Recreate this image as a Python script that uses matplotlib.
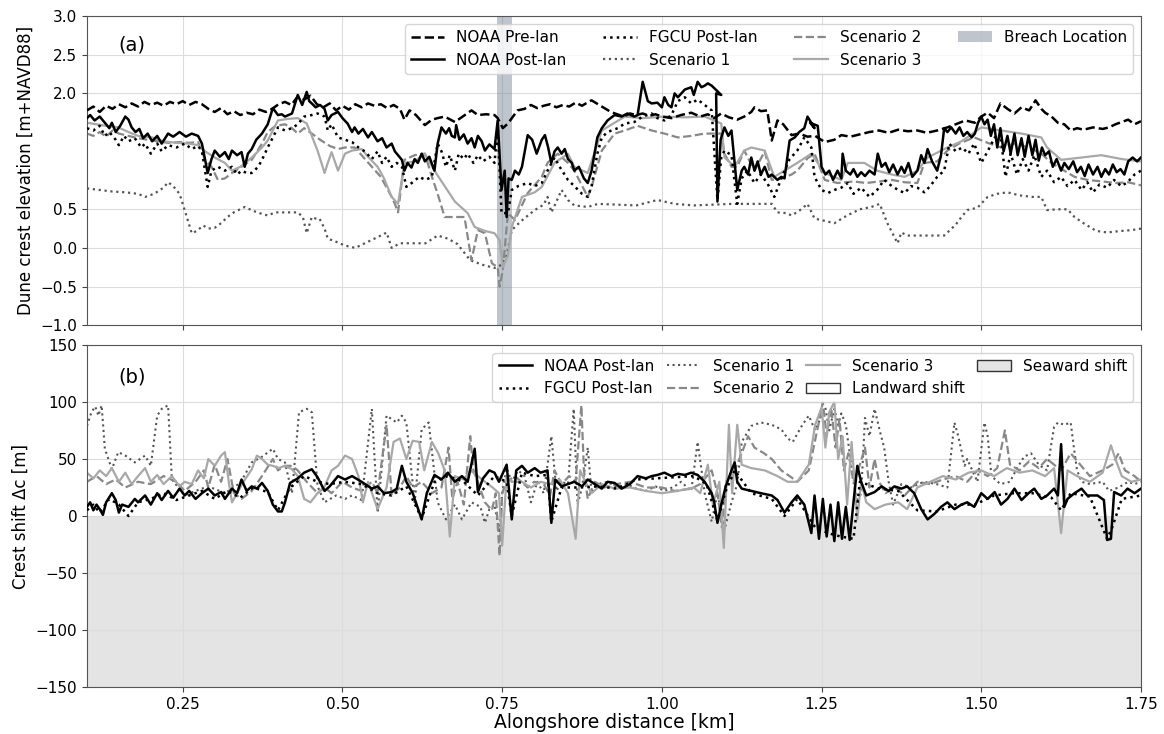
import matplotlib
matplotlib.use("Agg")
import matplotlib.pyplot as plt
from matplotlib.patches import Patch
import numpy as np

# ---- panel (a): dune crest elevation [m+NAVD88] ----
pre_x = [0.100, 0.110, 0.120, 0.130, 0.140, 0.150, 0.160, 0.170, 0.180, 0.190, 0.200, 0.210, 0.220, 0.230, 0.240,
         0.250, 0.260, 0.270, 0.280, 0.290, 0.300, 0.310, 0.320, 0.330, 0.340, 0.350, 0.360, 0.370, 0.380, 0.390,
         0.400, 0.410, 0.420, 0.430, 0.440, 0.450, 0.460, 0.470, 0.480, 0.490, 0.500, 0.510, 0.520, 0.530, 0.540,
         0.550, 0.560, 0.570, 0.580, 0.590, 0.597, 0.605, 0.615, 0.629, 0.640, 0.649, 0.660, 0.676, 0.690, 0.702,
         0.712, 0.725, 0.738, 0.743, 0.751, 0.759, 0.774, 0.785, 0.795, 0.805, 0.815, 0.825, 0.835, 0.845, 0.855,
         0.865, 0.875, 0.885, 0.890, 0.900, 0.910, 0.920, 0.930, 0.940, 0.950, 0.960, 0.970, 0.980, 0.990, 1.000,
         1.015, 1.030, 1.046, 1.060, 1.072, 1.082, 1.093, 1.105, 1.118, 1.129, 1.140, 1.145, 1.155, 1.165, 1.172,
         1.181, 1.190, 1.203, 1.215, 1.228, 1.240, 1.255, 1.270, 1.281, 1.295, 1.310, 1.325, 1.340, 1.355, 1.370,
         1.385, 1.400, 1.415, 1.431, 1.447, 1.460, 1.475, 1.490, 1.500, 1.510, 1.520, 1.530, 1.541, 1.552, 1.563,
         1.575, 1.585, 1.594, 1.600, 1.610, 1.620, 1.630, 1.640, 1.650, 1.660, 1.675, 1.690, 1.700, 1.710, 1.720,
         1.730, 1.740, 1.750]
pre_y = [1.78, 1.83, 1.76, 1.84, 1.80, 1.86, 1.82, 1.87, 1.83, 1.89, 1.85, 1.88, 1.84, 1.89, 1.86,
         1.90, 1.85, 1.89, 1.86, 1.80, 1.76, 1.81, 1.73, 1.77, 1.72, 1.75, 1.73, 1.79, 1.76, 1.80,
         1.86, 1.89, 1.85, 1.96, 1.92, 1.97, 1.86, 1.82, 1.87, 1.78, 1.84, 1.79, 1.86, 1.82, 1.87,
         1.84, 1.86, 1.81, 1.85, 1.80, 1.66, 1.78, 1.72, 1.59, 1.66, 1.68, 1.70, 1.63, 1.71, 1.78,
         1.72, 1.73, 1.72, 1.68, 1.55, 1.61, 1.78, 1.80, 1.85, 1.81, 1.84, 1.86, 1.82, 1.85, 1.83,
         1.88, 1.84, 1.89, 1.91, 1.86, 1.81, 1.76, 1.73, 1.70, 1.74, 1.72, 1.74, 1.71, 1.73, 1.70,
         1.68, 1.72, 1.75, 1.70, 1.73, 1.68, 1.74, 1.69, 1.66, 1.70, 1.76, 1.82, 1.77, 1.78, 1.39,
         1.65, 1.60, 1.46, 1.48, 1.44, 1.45, 1.37, 1.40, 1.46, 1.44, 1.47, 1.50, 1.52, 1.49, 1.53,
         1.51, 1.52, 1.49, 1.52, 1.56, 1.60, 1.65, 1.62, 1.70, 1.75, 1.68, 1.87, 1.80, 1.74, 1.82,
         1.78, 1.91, 1.80, 1.75, 1.70, 1.62, 1.60, 1.52, 1.55, 1.53, 1.56, 1.54, 1.56, 1.60, 1.63,
         1.66, 1.60, 1.64]

post_x = [0.100, 0.105, 0.112, 0.120, 0.128, 0.135, 0.139, 0.145, 0.152, 0.160, 0.165, 0.170, 0.176, 0.182, 0.188,
          0.195, 0.202, 0.210, 0.217, 0.227, 0.235, 0.245, 0.255, 0.264, 0.274, 0.280, 0.289, 0.295, 0.300, 0.308,
          0.316, 0.322, 0.327, 0.335, 0.342, 0.347, 0.352, 0.358, 0.365, 0.374, 0.383, 0.391, 0.399, 0.405, 0.410,
          0.421, 0.430, 0.437, 0.444, 0.448, 0.452, 0.458, 0.465, 0.472, 0.477, 0.483, 0.493, 0.500, 0.508, 0.515,
          0.519, 0.525, 0.532, 0.540, 0.546, 0.555, 0.562, 0.569, 0.577, 0.582, 0.587, 0.593, 0.597, 0.602, 0.608,
          0.613, 0.618, 0.624, 0.629, 0.636, 0.644, 0.649, 0.655, 0.662, 0.667, 0.671, 0.676, 0.678, 0.683, 0.690,
          0.696, 0.702, 0.707, 0.712, 0.718, 0.723, 0.730, 0.738, 0.743, 0.749, 0.754, 0.757, 0.760, 0.765, 0.770,
          0.776, 0.781, 0.790, 0.797, 0.804, 0.812, 0.817, 0.822, 0.827, 0.832, 0.837, 0.843, 0.848, 0.853, 0.859,
          0.863, 0.870, 0.878, 0.884, 0.890, 0.899, 0.906, 0.915, 0.926, 0.937, 0.946, 0.957, 0.962, 0.970, 0.978,
          0.984, 0.993, 1.000, 1.004, 1.010, 1.015, 1.020, 1.025, 1.036, 1.046, 1.050, 1.056, 1.062, 1.067, 1.072,
          1.078, 1.093, 1.085, 1.087, 1.092, 1.098, 1.104, 1.109, 1.114, 1.118, 1.125, 1.129, 1.135, 1.140, 1.145,
          1.150, 1.155, 1.161, 1.167, 1.172, 1.181, 1.187, 1.192, 1.200, 1.208, 1.215, 1.223, 1.228, 1.239, 1.232,
          1.244, 1.250, 1.256, 1.262, 1.268, 1.275, 1.281, 1.283, 1.288, 1.295, 1.300, 1.306, 1.312, 1.318, 1.325,
          1.333, 1.338, 1.344, 1.350, 1.356, 1.362, 1.369, 1.375, 1.380, 1.386, 1.392, 1.400, 1.406, 1.411, 1.416,
          1.423, 1.431, 1.437, 1.442, 1.447, 1.453, 1.460, 1.466, 1.472, 1.478, 1.485, 1.490, 1.495, 1.500, 1.505,
          1.510, 1.515, 1.520, 1.525, 1.530, 1.535, 1.541, 1.546, 1.552, 1.557, 1.563, 1.568, 1.574, 1.580, 1.585,
          1.590, 1.595, 1.600, 1.606, 1.612, 1.618, 1.625, 1.630, 1.637, 1.644, 1.650, 1.656, 1.662, 1.668, 1.675,
          1.682, 1.688, 1.694, 1.700, 1.706, 1.712, 1.718, 1.724, 1.730, 1.737, 1.744, 1.750]
post_y = [1.68, 1.72, 1.65, 1.70, 1.62, 1.55, 1.62, 1.50, 1.58, 1.70, 1.66, 1.56, 1.50, 1.54, 1.42,
          1.48, 1.38, 1.45, 1.35, 1.48, 1.44, 1.50, 1.44, 1.48, 1.45, 1.35, 0.97, 1.15, 1.26, 1.18,
          1.24, 1.15, 1.26, 1.20, 1.24, 1.05, 1.22, 1.28, 1.40, 1.48, 1.60, 1.81, 1.72, 1.73, 1.70,
          1.74, 1.98, 1.85, 2.02, 1.90, 1.87, 1.82, 1.85, 1.80, 1.65, 1.72, 1.76, 1.68, 1.61, 1.50,
          1.56, 1.48, 1.54, 1.43, 1.50, 1.38, 1.42, 1.30, 1.35, 1.25, 1.20, 1.14, 1.00, 1.10, 1.04,
          1.15, 1.10, 1.22, 1.12, 1.18, 1.00, 1.35, 1.56, 1.48, 1.55, 1.45, 1.43, 1.59, 1.40, 1.47,
          1.35, 1.42, 1.30, 1.45, 1.38, 1.26, 1.34, 1.28, 1.65, 0.75, 1.00, 0.40, 0.90, 0.88, 1.00,
          0.95, 1.05, 1.46, 1.40, 1.22, 1.40, 1.46, 1.30, 1.10, 1.25, 1.30, 1.22, 1.28, 1.15, 1.10,
          1.00, 1.05, 0.90, 0.84, 1.00, 1.43, 1.55, 1.65, 1.72, 1.70, 1.74, 1.70, 1.72, 2.15, 1.90,
          1.87, 1.88, 1.82, 1.95, 1.85, 1.82, 2.00, 1.95, 2.05, 2.08, 1.98, 2.15, 2.08, 2.10, 2.13,
          2.10, 1.98, 2.00, 0.60, 1.40, 1.56, 1.45, 1.52, 1.10, 0.75, 1.00, 1.05, 0.95, 1.17, 1.00,
          1.12, 0.95, 1.05, 0.92, 0.95, 0.88, 0.92, 0.90, 1.39, 1.43, 1.50, 1.55, 1.70, 1.55, 1.62,
          1.58, 1.05, 0.95, 1.00, 0.88, 1.00, 0.90, 1.22, 1.00, 0.95, 1.02, 0.92, 0.98, 0.93, 1.00,
          0.95, 1.22, 1.05, 1.10, 0.98, 1.08, 0.95, 1.05, 0.97, 1.10, 0.92, 1.00, 1.20, 1.10, 1.28,
          1.12, 1.00, 1.20, 1.55, 1.50, 1.56, 1.48, 1.56, 1.45, 1.50, 1.43, 1.48, 1.62, 1.70, 1.60,
          1.66, 1.45, 1.60, 1.30, 1.55, 1.25, 1.45, 1.22, 1.48, 1.20, 1.42, 1.18, 1.45, 1.20, 1.40,
          1.13, 1.30, 1.20, 1.25, 1.05, 1.15, 1.00, 1.10, 1.02, 1.12, 0.98, 1.05, 0.93, 1.08, 0.95,
          1.05, 0.92, 1.02, 0.95, 1.08, 0.98, 1.02, 0.95, 1.12, 1.17, 1.12, 1.17]

fgcu_x = [0.100, 0.110, 0.120, 0.128, 0.135, 0.145, 0.150, 0.158, 0.165, 0.175, 0.185, 0.191, 0.200, 0.210, 0.217,
          0.227, 0.240, 0.253, 0.264, 0.274, 0.280, 0.289, 0.295, 0.305, 0.316, 0.327, 0.335, 0.342, 0.350, 0.358,
          0.368, 0.374, 0.383, 0.391, 0.399, 0.410, 0.421, 0.430, 0.440, 0.452, 0.461, 0.472, 0.477, 0.483, 0.493,
          0.504, 0.515, 0.525, 0.535, 0.546, 0.555, 0.562, 0.569, 0.577, 0.585, 0.593, 0.600, 0.610, 0.620, 0.630,
          0.640, 0.649, 0.655, 0.662, 0.668, 0.676, 0.682, 0.690, 0.696, 0.705, 0.712, 0.720, 0.730, 0.738, 0.743,
          0.749, 0.759, 0.765, 0.775, 0.790, 0.801, 0.812, 0.821, 0.832, 0.840, 0.853, 0.863, 0.875, 0.884, 0.890,
          0.899, 0.906, 0.915, 0.931, 0.942, 0.957, 0.970, 0.984, 0.993, 1.004, 1.015, 1.025, 1.036, 1.046, 1.056,
          1.067, 1.078, 1.087, 1.093, 1.098, 1.109, 1.118, 1.125, 1.134, 1.145, 1.155, 1.165, 1.176, 1.187, 1.200,
          1.212, 1.223, 1.234, 1.239, 1.250, 1.260, 1.270, 1.281, 1.291, 1.300, 1.312, 1.325, 1.337, 1.348, 1.360,
          1.370, 1.380, 1.390, 1.400, 1.411, 1.420, 1.431, 1.442, 1.450, 1.460, 1.470, 1.480, 1.489, 1.500, 1.510,
          1.521, 1.531, 1.538, 1.546, 1.556, 1.565, 1.574, 1.583, 1.594, 1.603, 1.614, 1.625, 1.635, 1.646, 1.657,
          1.666, 1.675, 1.685, 1.697, 1.708, 1.719, 1.729, 1.740, 1.750]
fgcu_y = [1.55, 1.52, 1.58, 1.45, 1.50, 1.40, 1.33, 1.45, 1.38, 1.42, 1.30, 1.35, 1.22, 1.35, 1.25,
          1.33, 1.30, 1.35, 1.28, 1.32, 1.25, 0.79, 1.00, 1.05, 1.00, 1.05, 0.95, 1.00, 0.97, 0.97,
          1.05, 1.14, 1.30, 1.43, 1.56, 1.52, 1.55, 1.60, 1.70, 1.72, 1.74, 1.70, 1.52, 1.60, 1.43,
          1.40, 1.37, 1.30, 1.25, 1.15, 1.25, 1.10, 1.18, 1.05, 1.10, 1.05, 0.79, 0.85, 0.92, 0.88,
          0.92, 1.35, 1.25, 1.05, 1.20, 1.00, 1.22, 1.15, 1.22, 1.10, 1.20, 1.12, 1.18, 1.10, 1.56,
          0.45, 0.45, 0.75, 0.80, 0.84, 0.80, 0.84, 1.00, 1.17, 1.05, 0.88, 0.80, 0.70, 0.66, 0.80,
          1.22, 1.43, 1.50, 1.55, 1.61, 1.63, 1.70, 1.74, 1.68, 1.65, 1.72, 1.90, 1.95, 1.87, 1.92,
          1.85, 1.78, 0.62, 1.17, 1.26, 1.20, 0.57, 0.90, 1.00, 0.84, 0.95, 0.84, 0.66, 0.90, 1.15,
          1.26, 1.43, 1.30, 0.92, 0.75, 0.71, 0.75, 0.78, 0.84, 0.70, 0.78, 0.66, 0.75, 0.88, 0.80,
          0.75, 0.71, 0.80, 0.78, 0.72, 0.80, 0.92, 1.00, 1.35, 1.25, 1.30, 1.22, 1.35, 1.10, 1.25,
          1.43, 1.40, 0.92, 1.22, 0.95, 1.15, 1.00, 1.20, 0.92, 1.00, 0.85, 0.92, 0.80, 0.88, 0.75,
          0.85, 0.72, 0.82, 0.78, 0.88, 0.80, 0.85, 0.95, 1.00]

s1_x = [0.100, 0.120, 0.140, 0.160, 0.180, 0.191, 0.205, 0.220, 0.227, 0.235, 0.245, 0.253, 0.260, 0.264, 0.272,
        0.282, 0.290, 0.300, 0.310, 0.320, 0.330, 0.347, 0.360, 0.374, 0.383, 0.395, 0.410, 0.430, 0.438, 0.444,
        0.452, 0.458, 0.464, 0.472, 0.477, 0.490, 0.504, 0.520, 0.535, 0.555, 0.565, 0.569, 0.577, 0.590, 0.610,
        0.630, 0.649, 0.665, 0.680, 0.700, 0.720, 0.738, 0.749, 0.757, 0.765, 0.780, 0.801, 0.815, 0.821, 0.827,
        0.835, 0.843, 0.853, 0.863, 0.884, 0.900, 0.930, 0.960, 0.993, 1.020, 1.050, 1.080, 1.110, 1.140, 1.172,
        1.181, 1.195, 1.203, 1.215, 1.228, 1.239, 1.255, 1.270, 1.290, 1.310, 1.328, 1.341, 1.353, 1.369, 1.375,
        1.384, 1.400, 1.420, 1.442, 1.460, 1.469, 1.478, 1.494, 1.510, 1.525, 1.541, 1.560, 1.580, 1.594, 1.603,
        1.620, 1.635, 1.646, 1.660, 1.680, 1.697, 1.720, 1.735, 1.750]
s1_y = [0.77, 0.75, 0.73, 0.72, 0.70, 0.66, 0.70, 0.78, 0.85, 0.80, 0.70, 0.49, 0.30, 0.19, 0.22,
        0.29, 0.25, 0.26, 0.32, 0.40, 0.46, 0.53, 0.48, 0.44, 0.42, 0.46, 0.46, 0.46, 0.40, 0.19,
        0.40, 0.38, 0.38, 0.25, 0.12, 0.08, 0.03, 0.00, 0.06, 0.14, 0.18, 0.20, 0.00, 0.06, 0.06,
        0.06, 0.16, 0.12, 0.05, -0.16, -0.22, -0.26, -0.22, -0.10, 0.23, 0.35, 0.49, 0.56, 0.66, 0.46,
        0.60, 0.75, 0.62, 0.55, 0.53, 0.57, 0.56, 0.55, 0.62, 0.57, 0.55, 0.56, 0.57, 0.57, 0.57,
        0.46, 0.45, 0.42, 0.48, 0.57, 0.38, 0.35, 0.32, 0.42, 0.50, 0.53, 0.57, 0.32, 0.06, 0.20,
        0.16, 0.16, 0.16, 0.16, 0.30, 0.40, 0.49, 0.52, 0.66, 0.70, 0.72, 0.68, 0.66, 0.66, 0.49,
        0.50, 0.50, 0.40, 0.32, 0.22, 0.20, 0.22, 0.23, 0.25]

s2_x = [0.100, 0.110, 0.120, 0.130, 0.140, 0.150, 0.165, 0.180, 0.195, 0.210, 0.227, 0.245, 0.260, 0.274, 0.285,
        0.295, 0.305, 0.316, 0.327, 0.342, 0.358, 0.374, 0.383, 0.395, 0.410, 0.421, 0.430, 0.440, 0.452, 0.465,
        0.480, 0.493, 0.504, 0.519, 0.530, 0.546, 0.560, 0.577, 0.582, 0.587, 0.597, 0.613, 0.629, 0.640, 0.649,
        0.660, 0.676, 0.691, 0.702, 0.712, 0.723, 0.734, 0.743, 0.746, 0.751, 0.759, 0.770, 0.790, 0.812, 0.821,
        0.837, 0.853, 0.863, 0.884, 0.890, 0.906, 0.926, 0.942, 0.962, 0.984, 1.004, 1.025, 1.046, 1.067, 1.093,
        1.098, 1.109, 1.118, 1.129, 1.145, 1.161, 1.172, 1.187, 1.203, 1.212, 1.228, 1.239, 1.255, 1.275, 1.300,
        1.320, 1.340, 1.360, 1.380, 1.400, 1.411, 1.431, 1.447, 1.465, 1.489, 1.510, 1.531, 1.552, 1.575, 1.594,
        1.610, 1.630, 1.646, 1.666, 1.690, 1.710, 1.730, 1.750]
s2_y = [1.48, 1.45, 1.50, 1.44, 1.52, 1.48, 1.45, 1.42, 1.40, 1.38, 1.36, 1.37, 1.36, 1.37, 1.14,
        1.05, 0.88, 0.90, 0.97, 1.05, 1.14, 1.35, 1.50, 1.58, 1.60, 1.55, 1.48, 1.55, 1.48, 1.40,
        1.32, 1.28, 1.30, 1.30, 1.20, 1.05, 0.92, 0.66, 0.57, 0.46, 1.14, 1.20, 1.22, 0.92, 0.70,
        0.40, 0.40, 0.40, -0.16, 0.23, 0.19, -0.20, -0.25, -0.50, -0.29, 0.45, 0.36, 0.71, 0.92, 1.10,
        1.22, 1.10, 1.00, 0.66, 0.79, 1.26, 1.48, 1.52, 1.58, 1.52, 1.48, 1.43, 1.45, 1.48, 1.48,
        1.22, 1.05, 1.05, 1.26, 1.00, 1.25, 0.88, 0.90, 0.95, 1.00, 1.16, 1.22, 0.88, 0.84, 0.86,
        0.84, 0.86, 0.88, 0.85, 0.84, 1.10, 1.12, 1.26, 1.35, 1.43, 1.36, 1.30, 1.35, 1.30, 1.22,
        1.10, 1.00, 0.92, 0.88, 0.86, 0.84, 0.85, 0.81]

s3_x = [0.100, 0.115, 0.130, 0.149, 0.165, 0.180, 0.202, 0.220, 0.240, 0.260, 0.274, 0.285, 0.300, 0.316, 0.327,
        0.340, 0.358, 0.374, 0.383, 0.399, 0.415, 0.430, 0.444, 0.452, 0.461, 0.472, 0.477, 0.483, 0.493, 0.504,
        0.515, 0.530, 0.540, 0.555, 0.565, 0.577, 0.587, 0.597, 0.613, 0.629, 0.644, 0.660, 0.676, 0.696, 0.707,
        0.723, 0.738, 0.746, 0.751, 0.759, 0.765, 0.781, 0.801, 0.812, 0.832, 0.853, 0.863, 0.884, 0.906, 0.926,
        0.942, 0.970, 1.004, 1.036, 1.067, 1.082, 1.093, 1.098, 1.114, 1.129, 1.140, 1.161, 1.176, 1.192, 1.212,
        1.234, 1.255, 1.281, 1.291, 1.317, 1.337, 1.360, 1.380, 1.400, 1.416, 1.447, 1.469, 1.478, 1.500, 1.531,
        1.563, 1.594, 1.603, 1.625, 1.657, 1.688, 1.720, 1.750]
s3_y = [1.62, 1.60, 1.58, 1.56, 1.50, 1.45, 1.43, 1.38, 1.36, 1.35, 1.33, 1.25, 1.17, 1.10, 1.00,
        1.05, 1.17, 1.30, 1.39, 1.65, 1.67, 1.68, 1.61, 1.45, 1.26, 0.97, 1.10, 1.24, 1.00, 1.22,
        1.26, 1.28, 1.18, 1.05, 0.90, 0.66, 0.57, 1.10, 1.12, 1.22, 1.00, 0.80, 0.60, 0.45, 0.27,
        0.22, 0.19, 0.10, -0.25, -0.10, 0.27, 0.66, 0.72, 0.79, 1.10, 1.22, 1.05, 0.97, 1.52, 1.62,
        1.70, 1.68, 1.70, 1.69, 1.70, 1.65, 1.61, 1.17, 1.05, 1.26, 1.30, 1.26, 0.92, 1.00, 1.10,
        1.22, 0.97, 0.88, 1.10, 1.10, 1.00, 0.95, 0.92, 1.00, 1.17, 1.30, 1.38, 1.43, 1.56, 1.52,
        1.48, 1.43, 1.30, 1.14, 1.17, 1.20, 1.15, 1.12]

breach = (0.742, 0.765)

# ---- panel (b): crest shift [m] ----
bpost_x = [0.100, 0.105, 0.110, 0.115, 0.120, 0.125, 0.130, 0.139, 0.145, 0.150, 0.155, 0.165, 0.175, 0.180, 0.191,
           0.200, 0.210, 0.217, 0.227, 0.235, 0.245, 0.253, 0.260, 0.270, 0.280, 0.290, 0.300, 0.310, 0.316, 0.327,
           0.335, 0.342, 0.350, 0.358, 0.366, 0.374, 0.383, 0.391, 0.399, 0.405, 0.410, 0.418, 0.430, 0.440, 0.452,
           0.461, 0.472, 0.480, 0.493, 0.504, 0.515, 0.530, 0.546, 0.555, 0.565, 0.577, 0.585, 0.593, 0.600, 0.610,
           0.624, 0.632, 0.644, 0.655, 0.665, 0.676, 0.687, 0.696, 0.707, 0.712, 0.720, 0.730, 0.738, 0.745, 0.757,
           0.765, 0.772, 0.781, 0.790, 0.801, 0.810, 0.821, 0.827, 0.833, 0.843, 0.853, 0.863, 0.875, 0.884, 0.895,
           0.906, 0.915, 0.926, 0.937, 0.950, 0.962, 0.975, 0.984, 0.993, 1.004, 1.015, 1.025, 1.036, 1.046, 1.056,
           1.067, 1.078, 1.082, 1.087, 1.093, 1.100, 1.109, 1.114, 1.118, 1.125, 1.140, 1.155, 1.172, 1.181, 1.192,
           1.203, 1.212, 1.223, 1.234, 1.239, 1.246, 1.252, 1.258, 1.264, 1.270, 1.276, 1.282, 1.288, 1.294, 1.300,
           1.306, 1.312, 1.320, 1.333, 1.344, 1.355, 1.364, 1.375, 1.384, 1.395, 1.406, 1.416, 1.427, 1.437, 1.447,
           1.458, 1.469, 1.478, 1.489, 1.500, 1.510, 1.521, 1.531, 1.541, 1.552, 1.563, 1.574, 1.583, 1.594, 1.603,
           1.614, 1.620, 1.625, 1.630, 1.635, 1.646, 1.657, 1.666, 1.682, 1.692, 1.697, 1.703, 1.708, 1.719, 1.729,
           1.740, 1.750]
bpost_y = [8, 12, 5, 10, 6, 1, 12, 20, 14, 3, 10, 8, 15, 12, 18,
           10, 20, 14, 22, 16, 24, 18, 22, 15, 20, 24, 18, 21, 15, 24,
           20, 32, 22, 26, 24, 29, 22, 10, 4, 4, 12, 29, 33, 38, 41,
           34, 22, 26, 35, 32, 35, 30, 24, 26, 20, 21, 24, 44, 30, 20,
           -3, 20, 36, 32, 38, 30, 35, 30, 59, 21, 33, 40, 38, 30, 45,
           -3, 40, 44, 38, 42, 38, 40, -6, 32, 26, 28, 30, 26, 32, 28,
           24, 30, 29, 24, 28, 35, 33, 35, 36, 38, 35, 37, 36, 38, 36,
           30, 20, 12, -6, 10, 26, 40, 47, 30, 24, 22, 20, 18, 14, 3,
           12, 18, 10, -15, 18, -20, 15, -18, 10, -22, 12, -20, 8, -21, 12,
           44, 30, 18, 21, 26, 22, 26, 24, 26, 20, 6, -3, 2, 8, 12,
           6, 10, 12, 8, 20, 15, 21, 10, 15, 24, 14, 20, 24, 15, 18,
           24, 18, 63, 8, 15, 20, 24, 18, 18, 14, -21, -20, 21, 18, 24,
           20, 24]

bfgcu_x = [0.100, 0.110, 0.120, 0.135, 0.150, 0.165, 0.180, 0.200, 0.220, 0.240, 0.260, 0.280, 0.300, 0.320, 0.340,
           0.360, 0.383, 0.399, 0.418, 0.440, 0.461, 0.480, 0.504, 0.530, 0.555, 0.577, 0.600, 0.624, 0.644, 0.665,
           0.690, 0.712, 0.738, 0.757, 0.765, 0.781, 0.801, 0.821, 0.827, 0.843, 0.870, 0.900, 0.930, 0.960, 0.990,
           1.020, 1.050, 1.070, 1.087, 1.100, 1.114, 1.140, 1.172, 1.192, 1.212, 1.240, 1.260, 1.280, 1.300, 1.310,
           1.340, 1.370, 1.400, 1.430, 1.460, 1.490, 1.520, 1.550, 1.580, 1.610, 1.625, 1.640, 1.670, 1.697, 1.705,
           1.720, 1.750]
bfgcu_y = [5, 10, 3, 15, 10, 0, 12, 15, 20, 14, 18, 22, 15, 22, 16,
           25, 21, 5, 25, 35, 30, 28, 30, 28, 20, 18, 26, -2, 30, 35,
           30, 18, 35, 30, 0, 38, 35, 36, -5, 25, 25, 26, 24, 32, 33,
           34, 35, 28, -4, 22, 40, 20, 15, 0, 15, -10, -15, -18, -20, 30,
           24, 22, 5, 4, 10, 10, 18, 20, 20, 16, 5, 20, 17, -20, -10,
           15, 18]

bs1_x = [0.100, 0.107, 0.113, 0.118, 0.123, 0.128, 0.139, 0.149, 0.160, 0.175, 0.191, 0.200, 0.210, 0.217, 0.227,
         0.233, 0.253, 0.270, 0.290, 0.316, 0.340, 0.358, 0.374, 0.391, 0.399, 0.410, 0.421, 0.432, 0.444, 0.452,
         0.461, 0.472, 0.490, 0.504, 0.515, 0.530, 0.546, 0.555, 0.569, 0.585, 0.593, 0.600, 0.613, 0.624, 0.635,
         0.649, 0.662, 0.676, 0.687, 0.702, 0.716, 0.723, 0.730, 0.738, 0.746, 0.750, 0.757, 0.765, 0.775, 0.785,
         0.795, 0.805, 0.815, 0.827, 0.835, 0.843, 0.853, 0.862, 0.868, 0.875, 0.884, 0.890, 0.900, 0.915, 0.930,
         0.945, 0.960, 0.975, 0.990, 1.004, 1.020, 1.030, 1.046, 1.056, 1.067, 1.078, 1.087, 1.098, 1.109, 1.118,
         1.125, 1.140, 1.155, 1.172, 1.187, 1.197, 1.205, 1.212, 1.220, 1.230, 1.240, 1.250, 1.256, 1.262, 1.270,
         1.276, 1.281, 1.288, 1.294, 1.300, 1.306, 1.312, 1.318, 1.325, 1.333, 1.341, 1.348, 1.355, 1.362, 1.375,
         1.390, 1.410, 1.430, 1.447, 1.458, 1.464, 1.474, 1.478, 1.494, 1.505, 1.510, 1.516, 1.530, 1.545, 1.556,
         1.567, 1.578, 1.590, 1.603, 1.614, 1.620, 1.630, 1.640, 1.645, 1.650, 1.657, 1.670, 1.690, 1.700, 1.715,
         1.730, 1.740, 1.750]
bs1_y = [79, 91, 96, 88, 97, 59, 41, 56, 53, 47, 53, 44, 88, 94, 97,
         32, 18, 22, 26, 20, 29, 47, 52, 59, 50, 47, 20, 91, 94, 91,
         26, 12, 18, 15, 18, 14, 94, 3, 88, 82, 88, 82, 12, 76, 82,
         12, -3, 10, -3, 12, 8, -6, 6, 10, -15, 20, 42, 30, 40, 35,
         12, 30, 20, 70, 22, 30, 28, 94, 10, 25, 60, 20, 28, 30, 25,
         28, 24, 22, 26, 22, 26, 30, 22, 65, 20, -5, 20, -12, 12, 28,
         65, 79, 82, 80, 76, 68, 65, 72, 80, 88, 75, 88, 95, 75, 94,
         80, 90, 80, 55, 30, 12, 20, 86, 70, 94, 75, 60, 30, 10, 28,
         25, 30, 28, 25, 82, 70, 44, 50, 30, 82, 70, 35, 28, 30, 42,
         52, 55, 45, 40, 78, 82, 80, 82, 60, 40, 30, 28, 30, 22, 25,
         30, 28, 30]

bs2_x = [0.100, 0.115, 0.130, 0.145, 0.160, 0.180, 0.200, 0.220, 0.240, 0.253, 0.270, 0.283, 0.290, 0.300, 0.310,
         0.320, 0.330, 0.342, 0.358, 0.374, 0.391, 0.399, 0.410, 0.421, 0.430, 0.444, 0.461, 0.472, 0.483, 0.500,
         0.515, 0.530, 0.546, 0.555, 0.569, 0.577, 0.590, 0.600, 0.610, 0.624, 0.640, 0.655, 0.666, 0.672, 0.680,
         0.690, 0.700, 0.705, 0.712, 0.723, 0.734, 0.740, 0.746, 0.750, 0.757, 0.770, 0.790, 0.800, 0.815, 0.825,
         0.832, 0.843, 0.855, 0.865, 0.874, 0.878, 0.884, 0.895, 0.910, 0.930, 0.950, 0.975, 1.000, 1.020, 1.046,
         1.060, 1.078, 1.087, 1.094, 1.100, 1.114, 1.125, 1.135, 1.145, 1.160, 1.172, 1.187, 1.200, 1.212, 1.230,
         1.245, 1.252, 1.258, 1.265, 1.272, 1.278, 1.285, 1.292, 1.300, 1.310, 1.318, 1.325, 1.333, 1.340, 1.350,
         1.365, 1.380, 1.400, 1.420, 1.440, 1.460, 1.478, 1.494, 1.510, 1.525, 1.537, 1.545, 1.560, 1.575, 1.590,
         1.603, 1.614, 1.625, 1.640, 1.655, 1.670, 1.690, 1.705, 1.715, 1.725, 1.740, 1.750]
bs2_y = [30, 35, 28, 32, 25, 30, 28, 35, 30, 22, 30, 40, 25, 45, 30,
         50, 20, 15, 22, 35, 50, 40, 44, 44, 40, 30, 20, 25, 20, 30,
         25, 22, 30, 20, 80, 18, 25, 35, 25, 30, 20, 25, 60, 15, 30,
         10, 70, 40, 30, 12, 5, 20, -35, 20, 30, 35, 25, 30, 28, 18,
         40, 28, 35, 30, 97, 40, 15, 30, 25, 28, 30, 25, 25, 22, 24,
         28, 40, 20, -10, 30, 40, 55, 70, 60, 55, 50, 40, 35, 30, 40,
         80, 100, 70, 95, 60, 85, 40, 55, 30, 45, 60, 25, 50, 30, 20,
         25, 18, 30, 28, 32, 35, 30, 40, 35, 42, 75, 45, 40, 48, 42,
         50, 45, 40, 55, 45, 35, 40, 45, 55, 40, 35, 30]

bs3_x = [0.100, 0.110, 0.120, 0.130, 0.139, 0.150, 0.160, 0.170, 0.180, 0.191, 0.200, 0.210, 0.220, 0.233, 0.245,
         0.253, 0.264, 0.274, 0.283, 0.290, 0.300, 0.310, 0.316, 0.322, 0.327, 0.335, 0.345, 0.358, 0.366, 0.374,
         0.383, 0.391, 0.400, 0.410, 0.421, 0.430, 0.440, 0.450, 0.461, 0.472, 0.483, 0.493, 0.504, 0.515, 0.525,
         0.532, 0.540, 0.555, 0.569, 0.580, 0.590, 0.600, 0.610, 0.620, 0.628, 0.640, 0.650, 0.660, 0.668, 0.676,
         0.690, 0.700, 0.712, 0.723, 0.735, 0.745, 0.750, 0.757, 0.765, 0.781, 0.795, 0.810, 0.825, 0.840, 0.853,
         0.865, 0.872, 0.880, 0.890, 0.906, 0.926, 0.950, 0.975, 1.000, 1.025, 1.050, 1.060, 1.072, 1.080, 1.090,
         1.097, 1.105, 1.110, 1.118, 1.125, 1.140, 1.161, 1.181, 1.197, 1.212, 1.230, 1.240, 1.250, 1.256, 1.262,
         1.270, 1.276, 1.283, 1.290, 1.297, 1.306, 1.312, 1.320, 1.333, 1.350, 1.370, 1.384, 1.400, 1.420, 1.440,
         1.460, 1.480, 1.500, 1.520, 1.540, 1.560, 1.580, 1.600, 1.614, 1.625, 1.635, 1.650, 1.670, 1.690, 1.703,
         1.710, 1.720, 1.735, 1.750]
bs3_y = [38, 33, 40, 35, 42, 30, 38, 28, 35, 42, 30, 36, 28, 35, 26,
         30, 28, 40, 33, 50, 44, 53, 56, 30, 12, 20, 30, 41, 53, 50,
         45, 44, 42, 44, 41, 35, 15, 12, 20, 26, 40, 44, 53, 50, 35,
         12, 30, 6, 25, 65, 68, 50, 66, 65, 40, 65, 55, 40, -18, 35,
         32, 40, 35, 30, 25, 20, -26, 35, 30, 30, 25, 30, 28, 32, 20,
         -20, 40, 30, 20, 28, 24, 25, 22, 20, 22, 25, 20, 45, 10, 30,
         -28, 80, 20, 80, 45, 42, 40, 35, 30, 30, 45, 80, 95, 60, 91,
         100, 50, 70, 10, 65, -3, 30, 12, 6, 10, 12, 6, 25, 30, 35,
         32, 38, 40, 35, 42, 38, 40, 35, 42, -15, 40, 35, 30, 38, 62,
         50, 35, 30, 32]

fig = plt.figure(figsize=(11.64, 7.34), dpi=100)
ax1 = fig.add_axes([0.0747, 0.557, 0.9055, 0.421])
ax2 = fig.add_axes([0.0747, 0.064, 0.9055, 0.466], sharex=ax1)

# (a)
ax1.axvspan(breach[0], breach[1], color='slategray', alpha=0.45, lw=0, label='Breach Location', zorder=1)
ax1.plot(pre_x, pre_y, color='black', ls='--', lw=1.8, label='NOAA Pre-Ian', zorder=3)
ax1.plot(post_x, post_y, color='black', ls='-', lw=1.8, label='NOAA Post-Ian', zorder=4)
ax1.plot(fgcu_x, fgcu_y, color='black', ls=':', lw=1.8, label='FGCU Post-Ian', zorder=3)
ax1.plot(s1_x, s1_y, color='#555555', ls=':', lw=1.6, label='Scenario 1', zorder=2)
ax1.plot(s2_x, s2_y, color='#888888', ls='--', lw=1.6, label='Scenario 2', zorder=2)
ax1.plot(s3_x, s3_y, color='#a8a8a8', ls='-', lw=1.6, label='Scenario 3', zorder=2)

h, l = ax1.get_legend_handles_labels()
order = [1, 2, 3, 4, 5, 6, 0]
ax1.legend([h[i] for i in order], [l[i] for i in order], ncol=4, loc='upper right', fontsize=11,
           handlelength=2.2, columnspacing=2.4)
ax1.set_ylim(-1.0, 3.0)
ax1.set_yticks([-1.0, -0.5, 0.0, 0.5, 2.0, 2.5, 3.0])
ax1.set_ylabel('Dune crest elevation [m+NAVD88]', fontsize=12)
ax1.text(0.03, 0.89, '(a)', transform=ax1.transAxes, fontsize=14)
plt.setp(ax1.get_xticklabels(), visible=False)

# (b)
ax2.axhspan(-150, 0, color='#e4e4e4', lw=0, zorder=0)
ax2.plot(bpost_x, bpost_y, color='black', ls='-', lw=1.8, label='NOAA Post-Ian', zorder=4)
ax2.plot(bfgcu_x, bfgcu_y, color='black', ls=':', lw=1.8, label='FGCU Post-Ian', zorder=3)
ax2.plot(bs1_x, bs1_y, color='#555555', ls=':', lw=1.5, label='Scenario 1', zorder=2)
ax2.plot(bs2_x, bs2_y, color='#888888', ls='--', lw=1.6, label='Scenario 2', zorder=2)
ax2.plot(bs3_x, bs3_y, color='#a8a8a8', ls='-', lw=1.6, label='Scenario 3', zorder=2)
h2, l2 = ax2.get_legend_handles_labels()
h2 += [Patch(facecolor='white', edgecolor='#333333'), Patch(facecolor='#e4e4e4', edgecolor='#333333')]
l2 += ['Landward shift', 'Seaward shift']
ax2.legend(h2, l2, ncol=4, loc='upper right', fontsize=11, handlelength=2.2, columnspacing=0.8)
ax2.set_ylim(-150, 150)
ax2.set_yticks([-150, -100, -50, 0, 50, 100, 150])
ax2.set_ylabel('Crest shift Δc [m]', fontsize=12)
ax2.set_xlabel('Alongshore distance [km]', fontsize=13.5, labelpad=1)
ax2.text(0.03, 0.89, '(b)', transform=ax2.transAxes, fontsize=14)
ax2.set_xlim(0.1, 1.75)
ax2.set_xticks([0.25, 0.50, 0.75, 1.00, 1.25, 1.50, 1.75])

for ax in (ax1, ax2):
    ax.grid(True, color='#dcdcdc', lw=0.8)
    ax.set_axisbelow(True)
    ax.tick_params(labelsize=11, color='#444444')
    for s in ax.spines.values():
        s.set_color('#555555')

fig.savefig('out.png', dpi=100)
